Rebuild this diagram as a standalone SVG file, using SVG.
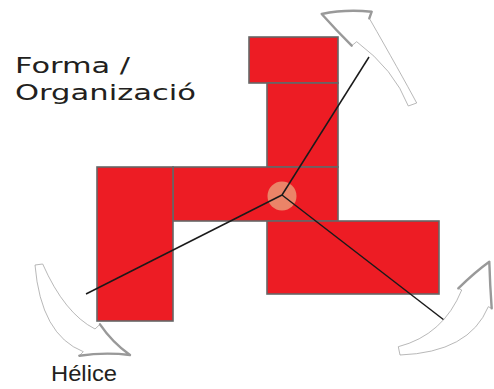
<svg xmlns="http://www.w3.org/2000/svg" width="494" height="389" viewBox="0 0 494 389">
<style>
.blk{fill:#ED1C24;stroke:#666;stroke-width:1.6}
.ln{fill:none;stroke:#1a1a1a;stroke-width:1.5}
.arw{fill:#fff;stroke:#9a9a9a;stroke-width:0.7}
.shd{fill:none;stroke:#999;stroke-width:2.4;stroke-linejoin:round;stroke-linecap:round}
.t1{font-family:"DejaVu Sans",sans-serif;font-size:20.5px;fill:#231F20}
.t2{font-family:"Liberation Sans",Arial,sans-serif;font-size:22px;fill:#231F20}
</style>
<rect width="494" height="389" fill="#fff"/>
<g id="blocks">
<rect id="b1" class="blk" x="249" y="37" width="89" height="46"/>
<rect id="b2" class="blk" x="267" y="83" width="71" height="84"/>
<rect id="b3" class="blk" x="173" y="167" width="165" height="54"/>
<rect id="b4" class="blk" x="97" y="167" width="76" height="154"/>
<rect id="b5" class="blk" x="267" y="221" width="172" height="73"/>
</g>
<g id="hub">
<circle cx="282" cy="196" r="14.5" fill="#EB8468"/>
</g>
<g id="connectors">
<line class="ln" x1="282" y1="195" x2="369" y2="57"/>
<line class="ln" x1="282" y1="195" x2="86" y2="294"/>
<line class="ln" x1="282" y1="195" x2="444" y2="320"/>
</g>
<g id="arrow-top">
<path class="arw" d="M321.7,14 Q345,9 371.7,11.7 L369.3,18.3 Q400.4,72.7 416.7,103 L408.3,106 Q394.1,69.5 356.7,41.7 L351.7,45.7 Q336,30 321.7,14 Z"/>
<path class="shd" d="M351.7,45.7 Q336,30 321.7,14 Q345,9 371.7,11.7 L369.3,18.3"/>
</g>
<g id="arrow-left">
<path class="arw" d="M35,265 L42.7,264 Q64.5,313.5 95,329 L100,324.3 Q112,342 130,355 Q105,352 79.3,355.7 L83.3,351.7 Q40.9,335 35,265 Z"/>
<path class="shd" d="M100,324.3 Q112,342 130,355 Q105,352 79.3,355.7"/>
</g>
<g id="arrow-right">
<path class="arw" d="M398.3,346.7 Q443.4,335 461.7,290 L458.3,288.3 Q475,272 489.3,261.7 Q490,285 491.7,308.3 L488.3,306.7 Q469.3,352.5 400,355 Z"/>
<path class="shd" d="M458.3,288.3 Q475,272 489.3,261.7 Q490,285 491.7,308.3"/>
</g>
<g id="labels">
<text class="t1" x="15" y="73" textLength="115" lengthAdjust="spacingAndGlyphs">Forma /</text>
<text class="t1" x="15" y="100" textLength="181" lengthAdjust="spacingAndGlyphs">Organizació</text>
<text class="t2" x="51" y="381" textLength="66" lengthAdjust="spacingAndGlyphs">Hélice</text>
</g>
</svg>
